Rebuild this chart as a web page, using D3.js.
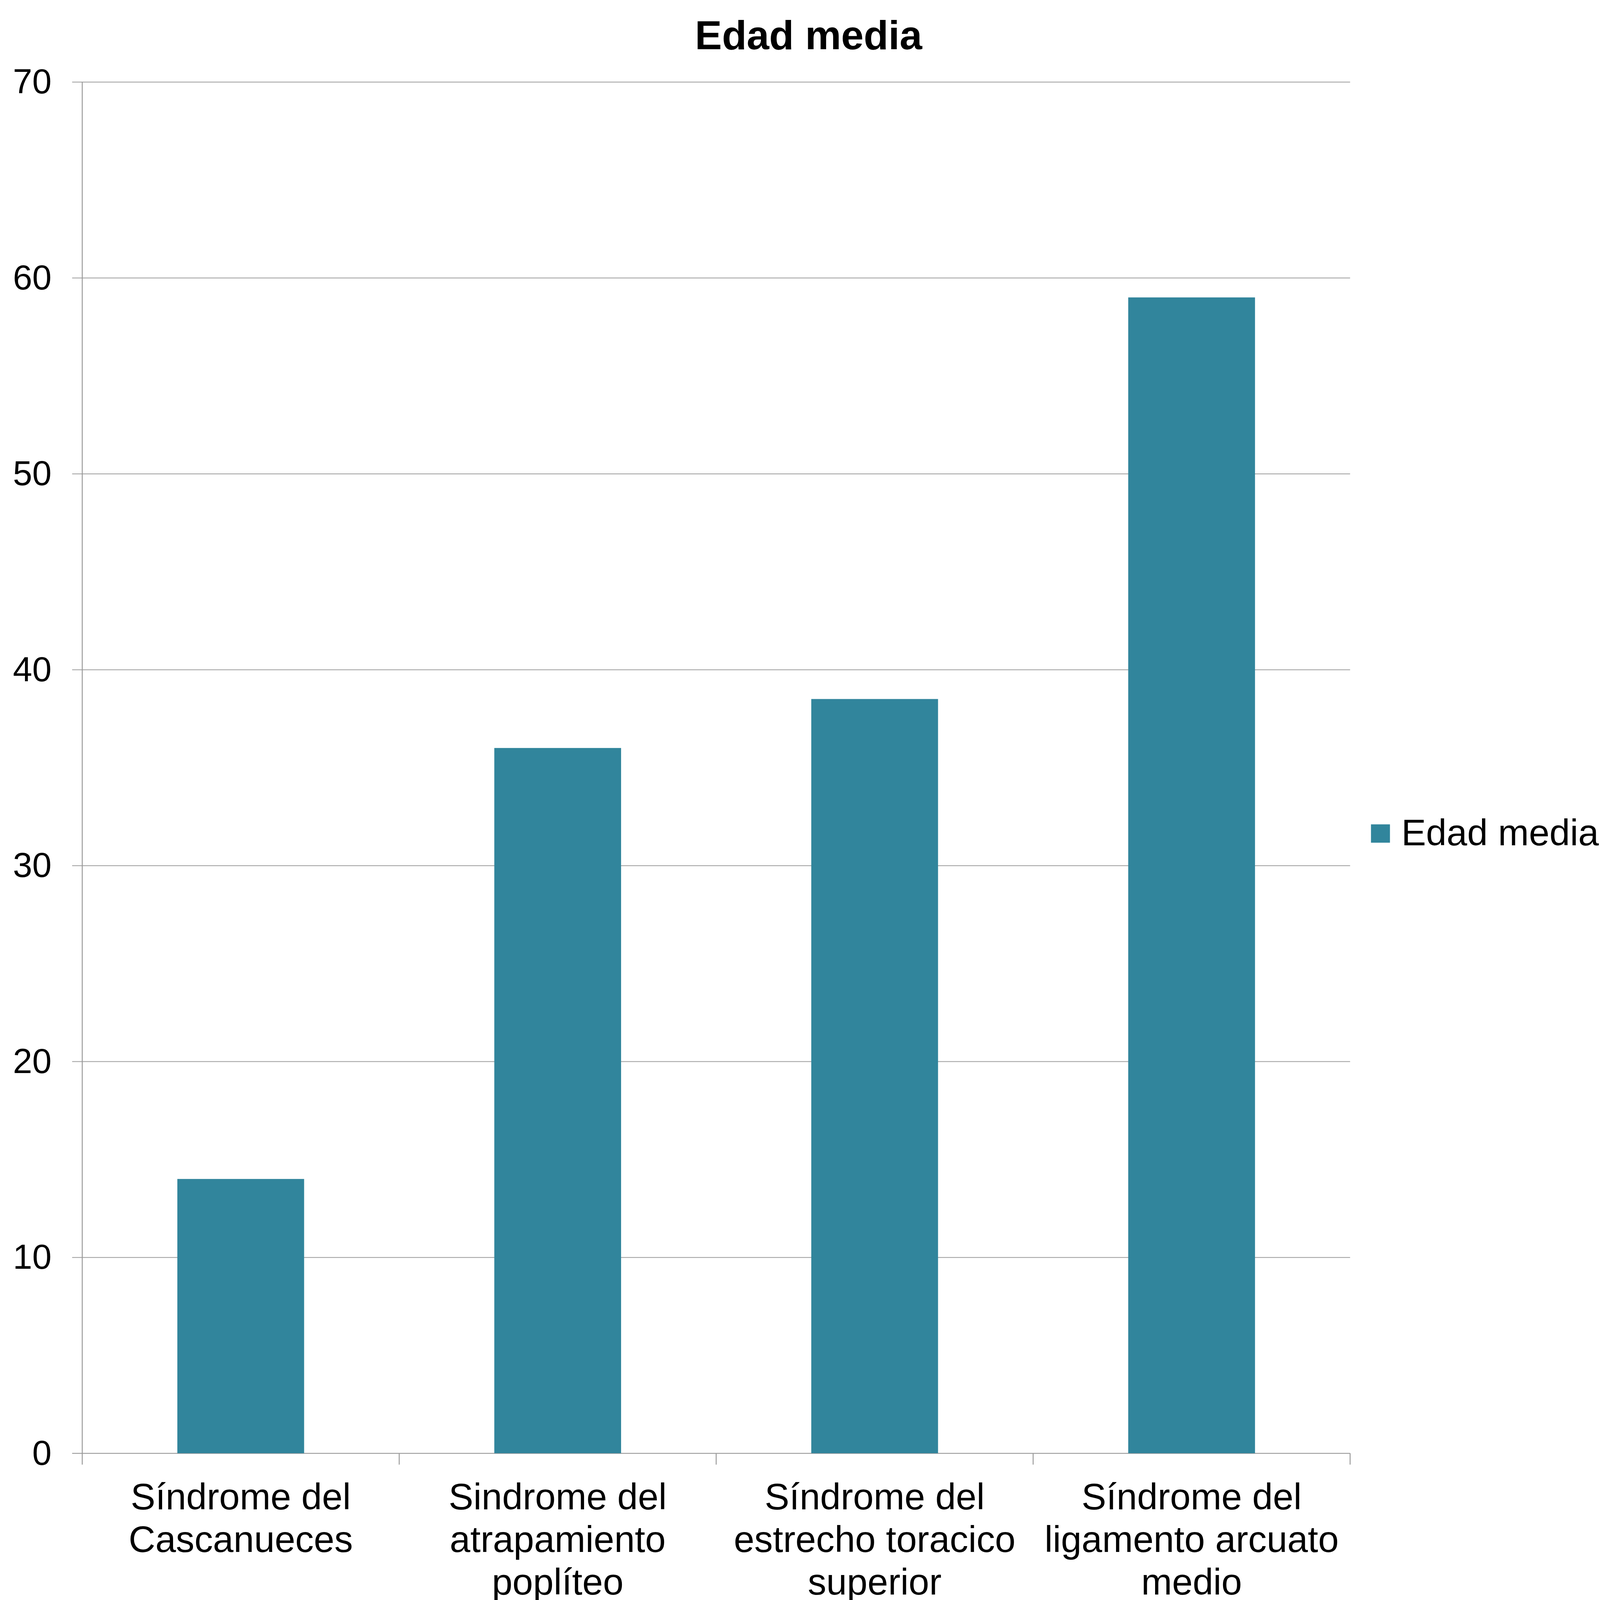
<!DOCTYPE html>
<html>
<head>
<meta charset="utf-8">
<script src="https://cdn.jsdelivr.net/npm/d3@7"></script>
<style>
  html, body { margin: 0; padding: 0; background: #fff; overflow: hidden; }
  svg { display: block; width: 100vw; height: 100vh; }
  text { font-family: "Liberation Sans", Arial, sans-serif; fill: #000; }
</style>
</head>
<body>
<div class="chart"></div>
<script>
// data
var categories = ["cascanueces", "popliteo", "toracico", "arcuato"];
var categoryLabels = [
  ["Síndrome del", "Cascanueces"],
  ["Sindrome del", "atrapamiento", "poplíteo"],
  ["Síndrome del", "estrecho toracico", "superior"],
  ["Síndrome del", "ligamento arcuato", "medio"]
];
var edadMedia = [14, 36, 38.5, 59];
var yTicks = [0, 10, 20, 30, 40, 50, 60, 70];
var seriesName = "Edad media";
var chartTitle = "Edad media";

var svgWidth = 5058;
var svgHeight = 5058;

var margin = {
  top: 259,
  right: 790,
  bottom: 464,
  left: 260
};

var width = svgWidth - margin.left - margin.right;
var height = svgHeight - margin.top - margin.bottom;

var barColor = "#31859c";
var gridColor = "#a6a6a6";
var axisColor = "#999999";

var svg = d3.select(".chart")
  .append("svg")
  .attr("viewBox", `0 0 ${svgWidth} ${svgHeight}`)
  .attr("preserveAspectRatio", "xMidYMid meet");

var chartGroup = svg.append("g")
  .attr("transform", `translate(${margin.left}, ${margin.top})`);

var xBandScale = d3.scaleBand()
  .domain(categories)
  .range([0, width])
  .paddingInner(0.6)
  .paddingOuter(0.3);

var yLinearScale = d3.scaleLinear()
  .domain([0, 70])
  .range([height, 0]);

// gridlines (also draw the short tick to the left of the axis)
var gridAxis = d3.axisRight(yLinearScale)
  .tickValues(yTicks)
  .tickSize(width + 32)
  .tickFormat("");

var grid = chartGroup.append("g")
  .attr("transform", "translate(-32, 0)")
  .call(gridAxis);
grid.select(".domain").remove();
grid.selectAll("line")
  .attr("stroke", d => d === 0 ? axisColor : gridColor)
  .attr("stroke-width", 3);

// y labels
var leftAxis = d3.axisLeft(yLinearScale)
  .tickValues(yTicks)
  .tickSize(0)
  .tickPadding(97)
  .tickFormat(d3.format("d"));

var yAxis = chartGroup.append("g")
  .call(leftAxis);
yAxis.select(".domain").remove();
yAxis.selectAll("text")
  .attr("dy", null)
  .attr("y", 36)
  .style("font-size", "110px")
  .style("font-family", "'Liberation Sans', Arial, sans-serif")
  .attr("fill", "#000");

// vertical axis line
chartGroup.append("line")
  .attr("x1", 0)
  .attr("x2", 0)
  .attr("y1", yLinearScale(70))
  .attr("y2", yLinearScale(0))
  .attr("stroke", axisColor)
  .attr("stroke-width", 3);

// category boundary ticks
var step = xBandScale.step();
var firstEdge = xBandScale(categories[0]) - step * xBandScale.paddingOuter();
chartGroup.selectAll(".xtick")
  .data(d3.range(categories.length + 1))
  .enter()
  .append("line")
  .attr("class", "xtick")
  .attr("x1", i => firstEdge + i * step)
  .attr("x2", i => firstEdge + i * step)
  .attr("y1", height)
  .attr("y2", height + 36)
  .attr("stroke", axisColor)
  .attr("stroke-width", 3);

// bars
chartGroup.selectAll(".bar")
  .data(categories)
  .enter()
  .append("rect")
  .attr("class", "bar")
  .attr("x", d => xBandScale(d))
  .attr("width", xBandScale.bandwidth())
  .attr("y", (d, i) => yLinearScale(edadMedia[i]))
  .attr("height", (d, i) => height - yLinearScale(edadMedia[i]))
  .attr("fill", barColor);

// category labels
var labels = chartGroup.selectAll(".xlabel")
  .data(categories)
  .enter()
  .append("text")
  .attr("class", "xlabel")
  .attr("text-anchor", "middle")
  .style("font-size", "117px")
  .attr("transform", d => `translate(${xBandScale(d) + xBandScale.bandwidth() / 2}, ${height + 177})`);

labels.selectAll("tspan")
  .data((d, i) => categoryLabels[i])
  .enter()
  .append("tspan")
  .attr("x", 0)
  .attr("y", (d, i) => i * 135)
  .text(d => d);

// title
svg.append("text")
  .attr("x", 2556)
  .attr("y", 155)
  .attr("text-anchor", "middle")
  .style("font-size", "128px")
  .style("font-weight", "bold")
  .text(chartTitle);

// legend
var legend = svg.append("g")
  .attr("transform", "translate(4334, 2606)");

legend.append("rect")
  .attr("width", 60)
  .attr("height", 58)
  .attr("fill", barColor);

legend.append("text")
  .attr("x", 96)
  .attr("y", 66)
  .style("font-size", "117px")
  .text(seriesName);
</script>
</body>
</html>
